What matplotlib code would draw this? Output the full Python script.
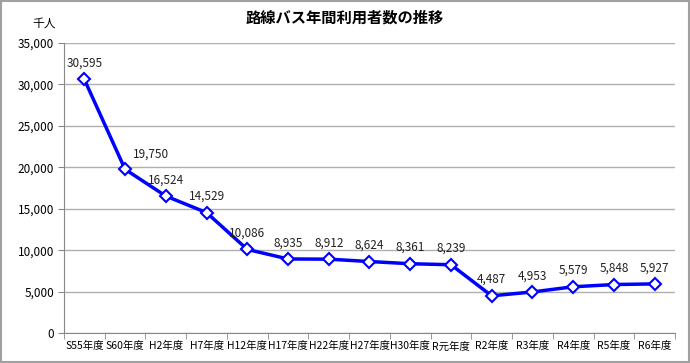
import matplotlib
matplotlib.use("Agg")
import matplotlib.pyplot as plt
from matplotlib.patches import Rectangle
import numpy as np

plt.rcParams['font.family'] = ['Noto Sans CJK JP', 'DejaVu Sans']

categories = ["S55年度", "S60年度", "H2年度", "H7年度", "H12年度", "H17年度", "H22年度",
              "H27年度", "H30年度", "R元年度", "R2年度", "R3年度", "R4年度", "R5年度", "R6年度"]
values = [30595, 19750, 16524, 14529, 10086, 8935, 8912, 8624, 8361, 8239, 4487, 4953, 5579, 5848, 5927]
yticks = [0, 5000, 10000, 15000, 20000, 25000, 30000, 35000]

fig = plt.figure(figsize=(6.9, 3.63), dpi=100)
ax = fig.add_axes([64/690, 1-333/363, (675-64)/690, (333-43)/363])

x = np.arange(len(categories))
ax.plot(x, values, color='#0000FF', lw=2.5, marker='D', markersize=6,
        markerfacecolor='white', markeredgecolor='#0000FF', markeredgewidth=1.5, zorder=3, clip_on=False)
label_offsets = {1: (19, 6)}
for i, (xi, v) in enumerate(zip(x, values)):
    off = label_offsets.get(i, (0, 7))
    ax.annotate(f"{v:,}", (xi, v), xytext=off, textcoords='offset points',
                ha='center', va='bottom', fontsize=8.5, color='#222222')

ax.set_xlim(-0.5, len(categories) - 0.5)
ax.set_ylim(0, 35000)
ax.set_yticks(yticks)
ax.set_yticklabels([f"{t:,}" for t in yticks], fontsize=8.5)
ax.set_xticks(x)
ax.set_xticklabels(categories, fontsize=7.5)
ax.set_xticks(np.arange(-0.5, len(categories), 1), minor=True)
ax.tick_params(axis='x', which='major', length=0, pad=6)
ax.tick_params(axis='x', which='minor', length=4, color='#888888')
ax.tick_params(axis='y', length=4, color='#888888', pad=3)
ax.grid(axis='y', color='#B0B0B0', lw=1)
ax.set_axisbelow(True)
for s in ['top', 'right']:
    ax.spines[s].set_visible(False)
ax.spines['left'].set_color('#888888')
ax.spines['bottom'].set_color('#888888')

fig.text(0.5, 1-18/363, "路線バス年間利用者数の推移", ha='center', va='center',
         fontsize=11, fontweight='bold')
fig.text(44/690, 1-23/363, "千人", ha='center', va='center', fontsize=8.5)

fig.patches.append(Rectangle((0.001, 0.002), 0.997, 0.995, transform=fig.transFigure,
                             fill=False, edgecolor='#A0A0A0', lw=1.5))

fig.savefig("out.png", dpi=100)
